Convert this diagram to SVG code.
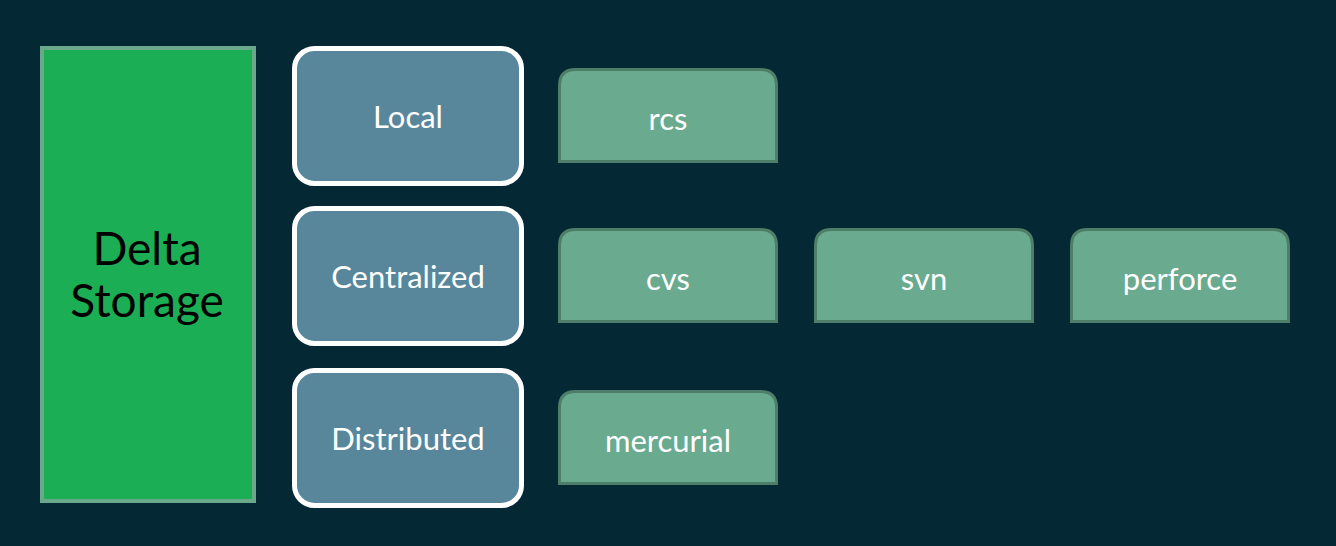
<svg xmlns="http://www.w3.org/2000/svg" width="1336" height="546" viewBox="0 0 1336 546">
<style>
.bg{fill:#042834}
.main{fill:#1cae54;stroke:#6aa88c;stroke-width:4}
.cat{fill:#58879b;stroke:#ffffff;stroke-width:5}
.tool{fill:#6aaa8f;stroke:#4e7d68;stroke-width:3}
.t{font-family:"Lato","Liberation Sans",sans-serif;font-size:31px;fill:#ffffff;text-anchor:middle}
.big{font-family:"Lato","Liberation Sans",sans-serif;font-size:46px;fill:#000000;text-anchor:middle}
</style>
<defs>
<path id="tab" d="M0,92 V16 Q0,0 16,0 H201 Q217,0 217,16 V92 Z"/>
</defs>
<rect class="bg" x="0" y="0" width="1336" height="546"/>
<g id="delta-storage">
<rect class="main" x="42" y="48" width="212" height="453"/>
<text class="big" x="147" y="265">Delta</text>
<text class="big" x="147" y="317">Storage</text>
</g>
<g id="local">
<rect class="cat" x="294.5" y="48.5" width="227" height="135" rx="20"/>
<text class="t" x="408" y="128">Local</text>
</g>
<g id="centralized">
<rect class="cat" x="294.5" y="208.5" width="227" height="135" rx="20"/>
<text class="t" x="408" y="288">Centralized</text>
</g>
<g id="distributed">
<rect class="cat" x="294.5" y="370.5" width="227" height="135" rx="20"/>
<text class="t" x="408" y="450">Distributed</text>
</g>
<g id="rcs">
<use href="#tab" class="tool" x="559.5" y="69.5"/>
<text class="t" x="668" y="130">rcs</text>
</g>
<g id="cvs">
<use href="#tab" class="tool" x="559.5" y="229.5"/>
<text class="t" x="668" y="290">cvs</text>
</g>
<g id="svn">
<use href="#tab" class="tool" x="815.5" y="229.5"/>
<text class="t" x="924" y="290">svn</text>
</g>
<g id="perforce">
<use href="#tab" class="tool" x="1071.5" y="229.5"/>
<text class="t" x="1180" y="290">perforce</text>
</g>
<g id="mercurial">
<use href="#tab" class="tool" x="559.5" y="391.5"/>
<text class="t" x="668" y="452">mercurial</text>
</g>
<g id="connectors"/>
</svg>
